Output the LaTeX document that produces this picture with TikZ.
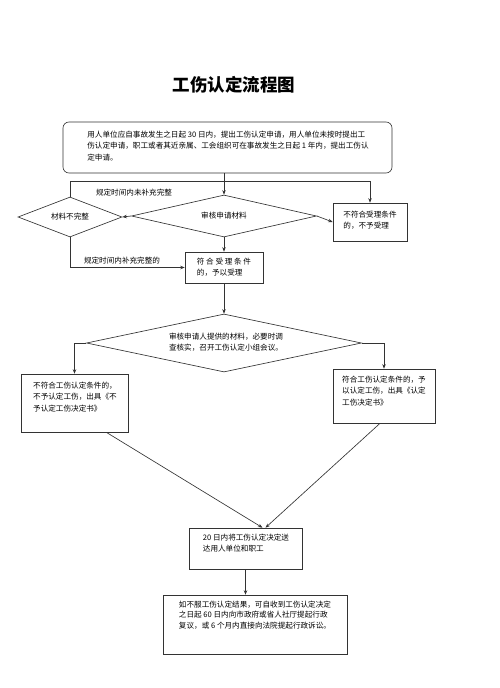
\documentclass[tikz,border=0pt]{standalone}
\usepackage{fontspec}
\setmainfont{Noto Sans CJK SC}
\usetikzlibrary{shapes.geometric,arrows.meta,calc}
\begin{document}
\begin{tikzpicture}[x=1pt,y=-1pt,
  every node/.style={font=\fontsize{7.6}{11.5}\selectfont, text=black},
  box/.style={draw=black!80, line width=0.65pt, inner sep=0pt},
  dia/.style={draw=black!80, line width=0.65pt, diamond, inner sep=0pt},
  conn/.style={draw=black!80, line width=0.65pt},
  arr/.style={conn, -{Stealth[length=4.5pt,width=3.5pt]}},
  txt/.style={align=left, inner sep=0pt}]
\path[use as bounding box] (0,0) rectangle (500,688);

\node (title) at (234,85) {\fontsize{17.5}{20}\selectfont\bfseries 工伤认定流程图};

\node[box, rounded corners=6pt, minimum width=329pt, minimum height=51pt] (top) at (227.5,147.5) {};
\node[txt] (toptxt) at (228,146) {用人单位应自事故发生之日起 30 日内，提出工伤认定申请，用人单位未按时提出工\\伤认定申请，职工或者其近亲属、工会组织可在事故发生之日起 1 年内，提出工伤认\\定申请。};

\node[dia, shape aspect=4.4, minimum width=185pt, minimum height=42pt] (d1) at (224,216) {审核申请材料};
\node[dia, shape aspect=2.6, minimum width=104pt, minimum height=40pt] (dl) at (70,217) {材料不完整};
\node[box, minimum width=74pt, minimum height=38pt] (rb) at (370,222) {};
\node[txt] (rbtxt) at (370,220) {不符合受理条件\\的，不予受理};
\node[box, minimum width=78pt, minimum height=31pt] (mb) at (224,267.5) {};
\node[txt] (mbtxt) at (224,267) {符 合 受 理 条 件\\的，予以受理};

\node (lab1) at (134,193) {规定时间内未补充完整};
\node (lab2) at (122,261) {规定时间内补充完整的};

\node[dia, shape aspect=4.7, minimum width=275pt, minimum height=58pt] (d2) at (224,343) {};
\node[txt] (d2txt) at (226,342) {审核申请人提供的材料，必要时调\\查核实，召开工伤认定小组会议。};

\node[box, minimum width=107pt, minimum height=58pt] (lb) at (74.5,403) {};
\node[txt] (lbtxt) at (75,397) {不符合工伤认定条件的，\\不予认定工伤，出具《不\\予认定工伤决定书》};
\node[box, minimum width=102pt, minimum height=54pt] (rb2) at (384,396) {};
\node[txt] (rb2txt) at (384,391) {符合工伤认定条件的，予\\以认定工伤，出具《认定\\工伤决定书》};

\node[box, minimum width=113pt, minimum height=41pt] (b20) at (245.5,548.5) {};
\node[txt] (b20txt) at (246,543) {20 日内将工伤认定决定送\\达用人单位和职工};

\node[box, minimum width=184pt, minimum height=59pt] (bot) at (255,624.5) {};
\node[txt, font=\fontsize{7.6}{10.5}\selectfont] (bottxt) at (255,615) {如不服工伤认定结果，可自收到工伤认定决定\\之日起 60 日内向市政府或省人社厅提起行政\\复议，或 6 个月内直接向法院提起行政诉讼。};

\coordinate (hl) at (0,181);
\draw[arr] (top.south -| d1.north) -- (d1.north);
\draw[arr] (dl.north) -- (dl.north |- hl) -- (rb.north |- hl) -- (rb.north);
\draw[arr] (d1.west) -- (dl.east);
\draw[arr] (d1.east) -- (rb.west);
\draw[arr] (d1.south) -- (d1.south |- mb.north);
\draw[arr] (dl.south) |- (mb.west);
\draw[arr] (mb.south) -- (mb.south |- d2.north);
\draw[arr] (d2.west) -| (lb.north);
\draw[arr] (d2.east) -| (rb2.north);
\draw[arr] ([xshift=-22pt]lb.south east) -- ([xshift=17pt]b20.north);
\draw[arr] ([xshift=-4pt]rb2.south) -- ([xshift=20pt]b20.north);
\draw[arr] (b20.south) -- (b20.south |- bot.north);
\end{tikzpicture}
\end{document}
